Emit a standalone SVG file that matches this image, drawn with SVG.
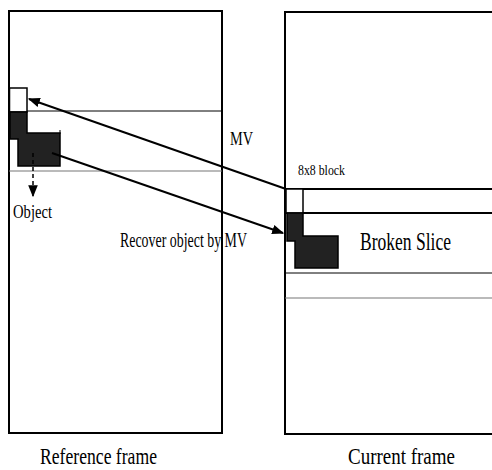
<svg xmlns="http://www.w3.org/2000/svg" width="492" height="470" viewBox="0 0 492 470">
<defs>
<style>
.frame{fill:none;stroke:#000;stroke-width:2}
.thin{stroke:#000;stroke-width:1;fill:none}
.grey{stroke:#777;stroke-width:1.2;fill:none}
.blk{fill:#222;stroke:#000;stroke-width:1.5}
.wht{fill:#fff;stroke:#000;stroke-width:1.5}
.conn{stroke:#000;stroke-width:2;fill:none}
text{font-family:"Liberation Serif","Times New Roman",serif;fill:#000}
</style>
<marker id="ah" viewBox="0 0 10 10" refX="9" refY="5" markerWidth="6" markerHeight="6" orient="auto" markerUnits="strokeWidth">
<path d="M0,1 L10,5 L0,9 Z" fill="#000"/>
</marker>
<marker id="ahs" viewBox="0 0 10 10" refX="9" refY="5" markerWidth="8" markerHeight="8" orient="auto" markerUnits="strokeWidth">
<path d="M0,1 L10,5 L0,9 Z" fill="#000"/>
</marker>
</defs>
<rect width="492" height="470" fill="#fff"/>

<g id="reference-frame">
<rect class="frame" x="9" y="11" width="213" height="422"/>
<line class="thin" x1="9" y1="111" x2="222" y2="111"/>
<line class="grey" x1="9" y1="171" x2="222" y2="171"/>
<rect class="wht" x="9.5" y="88" width="17.5" height="24"/>
<path class="blk" d="M10,112 H27 V133 H60 V166 H18 V139 H10 Z"/>
<line x1="60" y1="130" x2="60" y2="134" stroke="#000" stroke-width="1"/>
<text x="40" y="464" font-size="24" textLength="117" lengthAdjust="spacingAndGlyphs">Reference frame</text>
</g>

<g id="object">
<line x1="33" y1="153" x2="33" y2="196" stroke="#000" stroke-width="1.5" stroke-dasharray="4,3" marker-end="url(#ahs)"/>
<text x="13" y="218" font-size="18" textLength="39" lengthAdjust="spacingAndGlyphs">Object</text>
</g>

<g id="current-frame">
<rect class="frame" x="285" y="12" width="220" height="422"/>
<line x1="285" y1="189" x2="492" y2="189" stroke="#000" stroke-width="2"/>
<line x1="285" y1="213" x2="492" y2="213" stroke="#000" stroke-width="2"/>
<line class="thin" x1="285" y1="273" x2="492" y2="273"/>
<line class="grey" x1="285" y1="298" x2="492" y2="298"/>
<rect class="wht" x="286" y="189" width="17" height="24" stroke-width="2"/>
<path class="blk" d="M287,213 H303 V236 H338 V268 H295 V241 H287 Z"/>
<text x="298" y="175" font-size="15" textLength="47" lengthAdjust="spacingAndGlyphs">8x8 block</text>
<text x="360" y="250" font-size="25" textLength="91" lengthAdjust="spacingAndGlyphs">Broken Slice</text>
<text x="348" y="464" font-size="24" textLength="107" lengthAdjust="spacingAndGlyphs">Current frame</text>
</g>

<g id="connectors">
<line class="conn" x1="286" y1="189" x2="29" y2="99" marker-end="url(#ah)"/>
<line class="conn" x1="52" y1="153" x2="283" y2="233" marker-end="url(#ah)"/>
<text x="230" y="145" font-size="18" textLength="23" lengthAdjust="spacingAndGlyphs">MV</text>
<text x="120" y="247" font-size="20" textLength="127" lengthAdjust="spacingAndGlyphs">Recover object by MV</text>
</g>
</svg>
